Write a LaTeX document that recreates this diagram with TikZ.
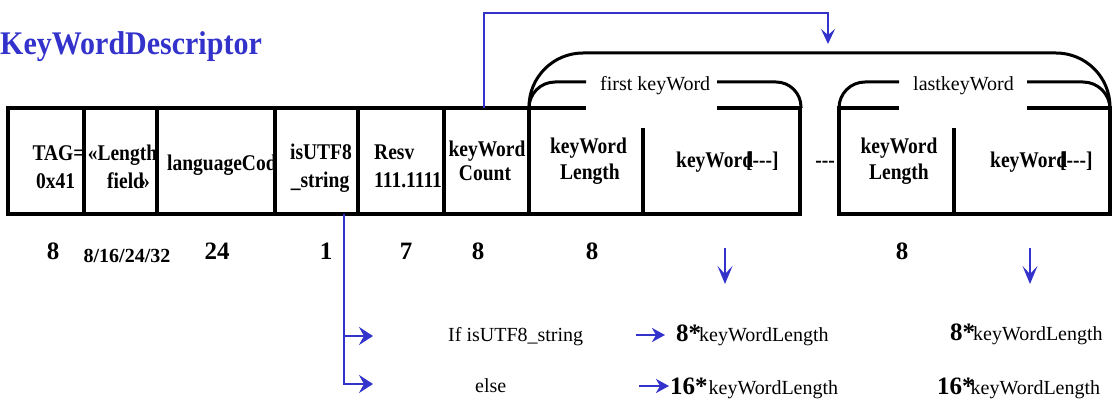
\documentclass[tikz,border=0pt]{standalone}
\usepackage{fontspec}
\setmainfont{Liberation Serif}
\usetikzlibrary{arrows.meta}
\usetikzlibrary{positioning}
\definecolor{keyblue}{RGB}{51,51,204}
\newcommand{\tallword}[1]{\scalebox{1}[1.15]{#1}}

\begin{document}
\begin{tikzpicture}[
	x=1pt, y=-1pt,
  > = {Stealth[length=14pt,width=18pt,inset=5pt]},
  field/.style = {draw, line width=3.2pt, minimum height=106pt, inner sep=0pt, outer sep=0pt, anchor=north west},
  boldtxt/.style = {font=\fontsize{19.5}{24}\selectfont\bfseries, inner sep=0pt, anchor=base},
  sizetxt/.style = {font=\fontsize{25}{30}\selectfont\bfseries, inner sep=0pt, anchor=base},
  plaintxt/.style = {font=\fontsize{20}{24}\selectfont, inner sep=0pt, anchor=base west},
  blueline/.style = {draw=keyblue, line width=2.8pt},
  bracket/.style = {line width=3pt},
  downtip/.style = {-{Stealth[length=18pt,width=15pt,inset=8pt]}}
  ]
	\useasboundingbox (0,0) rectangle (1112,403);

	\node[font=\fontsize{30}{36}\selectfont\bfseries, text=keyblue, anchor=base west, inner sep=0pt] (title) at (0,55) {\scalebox{1}[1.1]{KeyWordDescriptor}};

	% fixed fields
	\node[field, minimum width=76pt] (tag) at (8,108) {};
	\node[field, minimum width=73pt] (len) at (84,108) {};
	\node[field, minimum width=118pt] (lang) at (157,108) {};
	\node[field, minimum width=83pt] (utf) at (275,108) {};
	\node[field, minimum width=86pt] (resv) at (358,108) {};
	\node[field, minimum width=85pt] (count) at (444,108) {};

	% keyword loops
	\draw[line width=3.2pt] (586,108) -- (529,108) -- (529,214) -- (800,214) -- (800,108) -- (717,108);
	\draw[line width=3.2pt] (643,128) -- (643,214);
	\draw[line width=3.2pt] (899,108) -- (839,108) -- (839,214) -- (1110,214) -- (1110,108) -- (1027,108);
	\draw[line width=3.2pt] (954,128) -- (954,214);

	\draw[bracket, rounded corners=54pt] (529,108) |- (1110,53) -- (1110,108);
	\draw[bracket, rounded corners=26pt] (529,108) |- (586,82);
	\draw[bracket, rounded corners=25pt] (717,82) -| (801,108);
	\draw[bracket, rounded corners=26pt] (839,108) |- (899,82);
	\draw[bracket, rounded corners=27pt] (1027,82) -| (1110,108);

	\node[plaintxt] (firstlbl) at (600,91) {first keyWord};
	\node[plaintxt] (lastlbl) at (913,91) {lastkeyWord};

	% field texts
	\node[boldtxt] (tagA) at (58.5,161) {\tallword{TAG=}};
	\node[boldtxt] (tagB) at (55.5,189) {\tallword{0x41}};
	\node[boldtxt] (lenA) at (122.5,161) {\tallword{«Length}};
	\node[boldtxt] (lenB) at (128.5,189) {\tallword{field\kern-4pt»}};
	\begin{scope}
		\clip (lang.north west) rectangle (lang.south east);
		\node[boldtxt, anchor=base west] (langtxt) at (167,171) {\tallword{languageCode}};
	\end{scope}
	\node[boldtxt] (utfA) at (321,160) {\tallword{isUTF8}};
	\node[boldtxt] (utfB) at (320,188) {\tallword{\_string}};
	\begin{scope}
		\clip (resv.north west) rectangle (resv.south east);
		\node[boldtxt, anchor=base west] (resvA) at (374,160) {\tallword{Resv}};
		\node[boldtxt, anchor=base west] (resvB) at (374,188) {\tallword{111.1111}};
	\end{scope}
	\node[boldtxt] (countA) at (487,157) {\tallword{keyWord}};
	\node[boldtxt] (countB) at (485,181) {\tallword{Count}};
	\node[boldtxt] (kwlenA) at (588.5,154) {\tallword{keyWord}};
	\node[boldtxt] (kwlenB) at (590,180) {\tallword{Length}};
	\node[boldtxt, anchor=base west] (kwA) at (676,168) {\tallword{keyWord\kern-7pt[{-}{-}{-}]}};
	\node[boldtxt] (gap) at (825,168) {\tallword{{-}{-}{-}}};
	\node[boldtxt] (lastlenA) at (899,154) {\tallword{keyWord}};
	\node[boldtxt] (lastlenB) at (899,180) {\tallword{Length}};
	\node[boldtxt, anchor=base west] (kwB) at (990,168) {\tallword{keyWord\kern-7pt[{-}{-}{-}]}};

	% widths
	\node[sizetxt] (wtag) at (53,260) {8};
	\node[sizetxt, font=\fontsize{20}{24}\selectfont\bfseries] (wlen) at (127,263) {8/16/24/32};
	\node[sizetxt] (wlang) at (217,260) {24};
	\node[sizetxt] (wutf) at (326,260) {1};
	\node[sizetxt] (wresv) at (406,260) {7};
	\node[sizetxt] (wcount) at (478,260) {8};
	\node[sizetxt] (wkwlen) at (592,260) {8};
	\node[sizetxt] (wlastlen) at (902,260) {8};

	% keyWordCount points at the loop
	\coordinate (loopbend) at (828,13);
	\coordinate (looptop) at (828,44);
	\draw[blueline, -{Stealth[length=15pt,width=14pt,inset=6pt]}] (count.north -| 484,0) |- (loopbend) -- (looptop);

	% isUTF8_string branches
	\coordinate (utfout) at (344,214);
	\coordinate (ifend) at (373,336);
	\coordinate (elseend) at (373,384);
	\draw[blueline, ->] (utfout) |- (elseend);
	\draw[blueline, ->] (utfout |- ifend) -- (ifend);

	\coordinate (downA) at (725,248);
	\coordinate (downB) at (1030,248);
	\draw[blueline, line width=2.2pt, downtip] (downA) -- ++(0,36);
	\draw[blueline, line width=2.2pt, downtip] (downB) -- ++(0,36);

	\node[plaintxt] (iftxt) at (448,342) {If isUTF8\_string};
	\node[plaintxt] (elsetxt) at (475,393) {else};
	\node[plaintxt] (ifsize) at (676,342) {{\fontsize{25}{30}\selectfont\bfseries 8*}\kern-2pt keyWordLength};
	\node[plaintxt] (elsesize) at (670,395) {{\fontsize{25}{30}\selectfont\bfseries 16*}\kern1pt keyWordLength};
	\node[plaintxt] (ifsizeB) at (950,341) {{\fontsize{25}{30}\selectfont\bfseries 8*}\kern-2pt keyWordLength};
	\node[plaintxt] (elsesizeB) at (937,395) {{\fontsize{25}{30}\selectfont\bfseries 16*}\kern-4pt keyWordLength};

	\coordinate (ifarr) at (636,335);
	\coordinate (elsearr) at (639,386);
	\draw[blueline, -{Stealth[length=13pt,width=14pt,inset=4pt]}] (ifarr) -- ++(29,0);
	\draw[blueline, -{Stealth[length=13pt,width=14pt,inset=4pt]}] (elsearr) -- ++(30,0);

\end{tikzpicture}
\end{document}
